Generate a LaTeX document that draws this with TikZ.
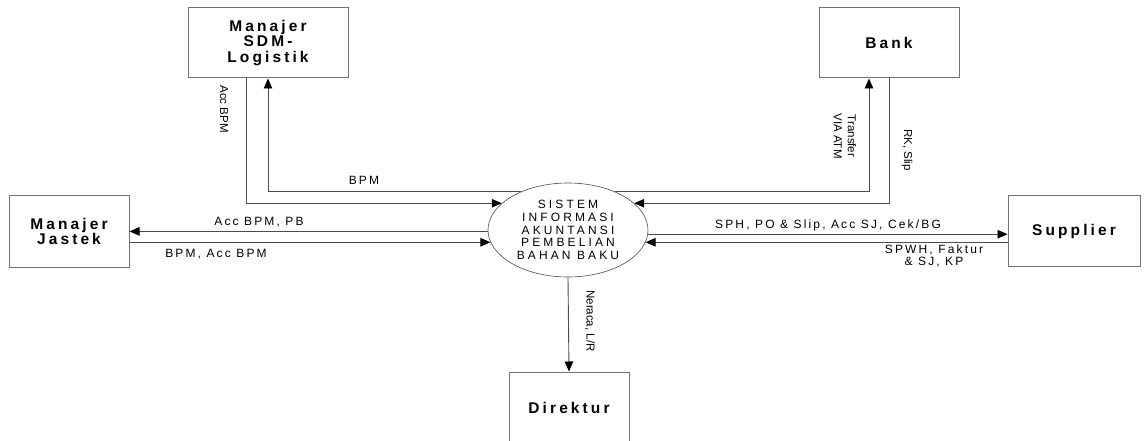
\documentclass[tikz,border=0pt]{standalone}
\usepackage{fontspec}
\setmainfont{Liberation Sans}
\newfontfamily\boxfont[LetterSpace=20]{Liberation Sans}
\newfontfamily\flowfont[LetterSpace=18]{Liberation Sans}
\newfontfamily\sisfont[LetterSpace=26]{Liberation Sans}
\usetikzlibrary{arrows.meta,shapes.geometric}

\begin{document}
\begin{tikzpicture}[
        x=1pt, y=-1pt,
        entity/.style={draw=black!55, line width=1pt, inner sep=0pt, align=center,
                font=\boxfont\bfseries\fontsize{15.5}{15.5}\selectfont},
        process/.style={draw=black!70, line width=0.6pt, ellipse, inner sep=0pt, align=center,
                font=\sisfont\fontsize{12}{12.7}\selectfont},
        flow/.style={draw=black!70, line width=0.9pt, -{Triangle[length=10pt,width=8.5pt,color=black]}},
        lbl/.style={inner sep=0pt, font=\flowfont\fontsize{12}{12}\selectfont},
        vlbl/.style={inner sep=0pt, rotate=-90, align=center, font=\fontsize{11.5}{14}\selectfont}
    ]
    \useasboundingbox (0,0) rectangle (1144,441);

    % entities and process
    \node[entity, minimum width=160pt, minimum height=70pt] (sdm) at (268,43) {Manajer\\SDM-\\Logistik};
    \node[entity, minimum width=140pt, minimum height=70pt] (bank) at (889,43) {Bank};
    \node[entity, minimum width=120pt, minimum height=71pt] (jastek) at (69,231.5) {Manajer\\Jastek};
    \node[entity, minimum width=132pt, minimum height=70pt] (supplier) at (1074,231) {Supplier};
    \node[entity, minimum width=120pt, minimum height=71pt] (direktur) at (569,407.5) {Direktur};
    \node[process, minimum width=160pt, minimum height=94pt] (sis) at (568,230)
        {SISTEM\\INFORMASI\\AKUNTANSI\\PEMBELIAN\\BAHAN BAKU};

    % Manajer SDM-Logistik
    \draw[flow] ([xshift=-22pt]sdm.south) |- (sis.158);
    \draw[flow] (sis.141) -| (sdm.south);
    % Bank
    \draw[flow] (sis.39) -| ([xshift=-20pt]bank.south);
    \draw[flow] (bank.south) |- (sis.22);
    % Manajer Jastek
    \draw[flow] (sis.181) -- (sis.181 -| jastek.east);
    \draw[flow] (jastek.east |- sis.189) -- (sis.189);
    % Supplier
    \draw[flow] (sis.357) -- (sis.357 -| supplier.west);
    \draw[flow] (supplier.west |- sis.351) -- (sis.351);
    % Direktur
    \draw[flow] (sis.south) -- (direktur.north);

    % labels
    \node[lbl] (lblbpm) at (364,180) {BPM};
    \node[lbl] (lblaccpb) at (259,222) {Acc BPM, PB};
    \node[lbl] (lblbpmacc) at (216,254) {BPM, Acc BPM};
    \node[lbl] (lblsph) at (828,225) {SPH, PO \& Slip, Acc SJ, Cek/BG};
    \node[lbl, align=center] (lblspwh) at (934,256) {SPWH, Faktur\\\& SJ, KP};
    \node[vlbl] (lblaccbpm) at (224,109) {Acc BPM};
    \node[vlbl] (lbltransfer) at (845,136) {Transfer\\VIA ATM};
    \node[vlbl] (lblrk) at (907,150) {RK, Slip};
    \node[vlbl] (lblneraca) at (590,321) {Neraca, L/R};
\end{tikzpicture}
\end{document}
